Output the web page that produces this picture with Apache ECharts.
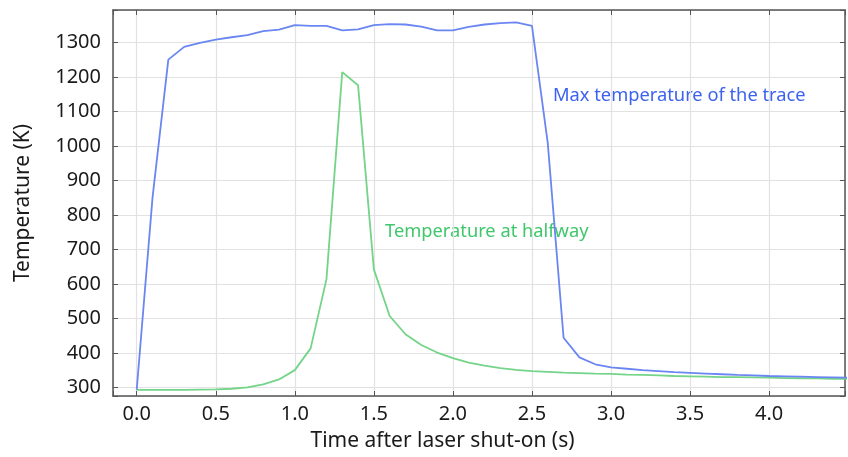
<!DOCTYPE html>
<html><head><meta charset="utf-8">
<script src="https://cdn.jsdelivr.net/npm/echarts@6/dist/echarts.min.js"></script>
<style>html,body{margin:0;padding:0;background:#fff}#c{width:848px;height:457px}</style>
</head><body><div id="c"></div>
<script>
const times = [0.0,0.1,0.2,0.3,0.4,0.5,0.6,0.7,0.8,0.9,1.0,1.1,1.2,1.3,1.4,1.5,1.6,1.7,1.8,1.9,2.0,2.1,2.2,2.3,2.4,2.5,2.6,2.7,2.8,2.9,3.0,3.1,3.2,3.3,3.4,3.5,3.6,3.7,3.8,3.9,4.0,4.1,4.2,4.3,4.4,4.5];
const maxTemp = [293,850,1250,1287,1299,1308,1315,1321,1333,1337,1350,1348,1348,1335,1338,1350,1353,1352,1346,1335,1335,1345,1352,1356,1358,1348,1008,444,387,367,358,354,350,347,344,342,340,338,336,335,333,332,331,330,329,328];
const halfway = [293,293,293,293,293.5,294,296,300,309,323,350,413,613,1214,1176,642,507,454,423,401,385,372,363,356,351,347,345,343,341.5,340,339,337,336,335,333,332,331,330,329.5,329,328,327,326.5,326,325,325];
const xTicks = [0.0,0.5,1.0,1.5,2.0,2.5,3.0,3.5,4.0];
const yTicks = [300,400,500,600,700,800,900,1000,1100,1200,1300];
const xTitle = 'Time after laser shut-on (s)';
const yTitle = 'Temperature (K)';
const label1 = 'Max temperature of the trace';
const label2 = 'Temperature at halfway';

const FONT = 'Noto Sans';
const xMin = -0.15, xMax = 4.48, yMin = 275, yMax = 1394;
function near(v, arr){ return arr.some(t => Math.abs(t - v) < 1e-6); }

const chart = echarts.init(document.getElementById('c'), null, {renderer:'canvas'});
const baseX = {
  type:'value', min:xMin, max:xMax, splitNumber:9,
  axisLine:{show:true, onZero:false, lineStyle:{color:'#555', width:1.5}},
  axisTick:{show:true, inside:true, length:5, lineStyle:{color:'#555'}},
  splitLine:{show:false}
};
const baseY = {
  type:'value', min:yMin, max:yMax, splitNumber:11,
  axisLine:{show:true, onZero:false, lineStyle:{color:'#555', width:1.5}},
  axisTick:{show:true, inside:true, length:5, lineStyle:{color:'#555'}},
  splitLine:{show:false}
};
chart.setOption({
  backgroundColor:'#fff',
  animation:false,
  grid:{left:113, top:10, right:3, bottom:60, containLabel:false},
  xAxis:[
    Object.assign({}, baseX, {
      position:'bottom',
      name:xTitle, nameLocation:'middle', nameGap:35,
      nameTextStyle:{fontFamily:FONT, fontSize:21, color:'#1a1a1a', padding:[0,73,0,0]},
      axisLabel:{fontFamily:FONT, fontSize:20, color:'#1a1a1a', margin:8,
        formatter:v => near(v, xTicks) ? v.toFixed(1) : ''},
      splitLine:{show:true, lineStyle:{color:'#e2e2e2', width:1.2}}
    }),
    Object.assign({}, baseX, {position:'top', axisLabel:{show:false}})
  ],
  yAxis:[
    Object.assign({}, baseY, {
      position:'left',
      name:yTitle, nameLocation:'middle', nameGap:79, nameRotate:90,
      nameTextStyle:{fontFamily:FONT, fontSize:21, color:'#1a1a1a'},
      axisLabel:{fontFamily:FONT, fontSize:20, color:'#1a1a1a', margin:12,
        formatter:v => near(v, yTicks) ? String(v) : ''},
      splitLine:{show:true, lineStyle:{color:'#e2e2e2', width:1.2}}
    }),
    Object.assign({}, baseY, {position:'right', axisLabel:{show:false}})
  ],
  series:[
    {type:'line', name:label1, data:times.map((t,i)=>[t,maxTemp[i]]), showSymbol:false,
      lineStyle:{color:'#6a86f2', width:1.8}, z:3},
    {type:'line', name:label2, data:times.map((t,i)=>[t,halfway[i]]), showSymbol:false,
      lineStyle:{color:'#74d488', width:1.8}, z:2}
  ],
  graphic:[
    {type:'text', left:553, top:87, style:{text:label1, fontFamily:FONT, fontSize:18.3, fill:'#3d62f0'}},
    {type:'text', left:385, top:223, style:{text:label2, fontFamily:FONT, fontSize:18.3, fill:'#3fc76b'}}
  ]
});
</script></body></html>
